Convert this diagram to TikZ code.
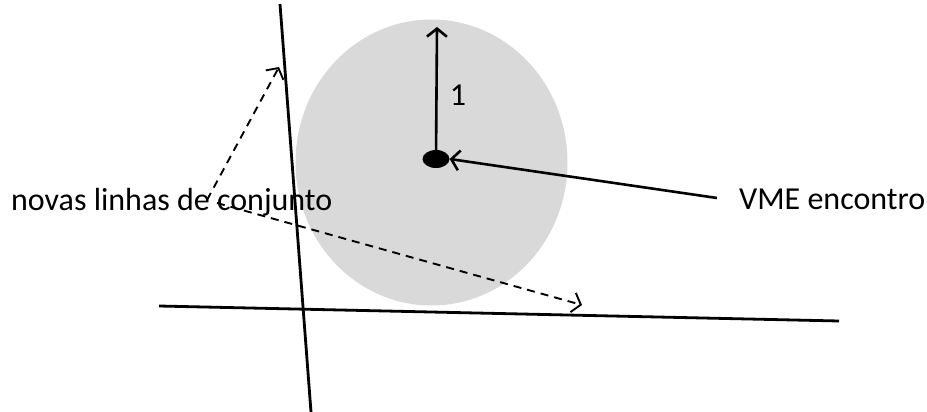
\documentclass[tikz,border=0pt]{standalone}
\usepackage{fontspec}
\setmainfont{Carlito}
\usetikzlibrary{arrows.meta,shapes.geometric}
\definecolor{discgray}{HTML}{D9D9D9}

\begin{document}
\begin{tikzpicture}[x=1pt, y=-1pt, every node/.style={font=\fontsize{32}{36}\selectfont, inner sep=0pt}, >={Straight Barb[length=8pt,width=20pt]}]
	\useasboundingbox (0,0) rectangle (927,412);
	\fill[discgray] (431.5,162.5) ellipse [x radius=136, y radius=143];
	\draw[line width=2.8pt] (280,4) -- (311,412);
	\draw[line width=2.8pt] (159,306) -- (839,321);
	\node[anchor=base west] (novas) at (11,210) {novas linhas de conjunto};
	\node[anchor=base west] (vme) at (739,209) {VME encontro};
	\node[fill=black, ellipse, minimum width=27pt, minimum height=18pt] (dot) at (436,159) {};
	\coordinate (top) at (437,27);
	\coordinate (vmestart) at (717,198);
	\coordinate (setA) at (207,200);
	\coordinate (setB) at (217,203);
	\coordinate (tipA) at (279,67);
	\coordinate (tipB) at (582,305);
	\draw[->, line width=2.6pt] (dot.center) -- (top);
	\node (one) at (458,95) {1};
	\draw[->, line width=2.6pt] (vmestart) -- (dot.east);
	\draw[->, line width=1.9pt, dash pattern=on 8pt off 6pt] (setA) -- (tipA);
	\draw[->, line width=1.9pt, dash pattern=on 8pt off 6pt] (setB) -- (tipB);
\end{tikzpicture}
\end{document}
